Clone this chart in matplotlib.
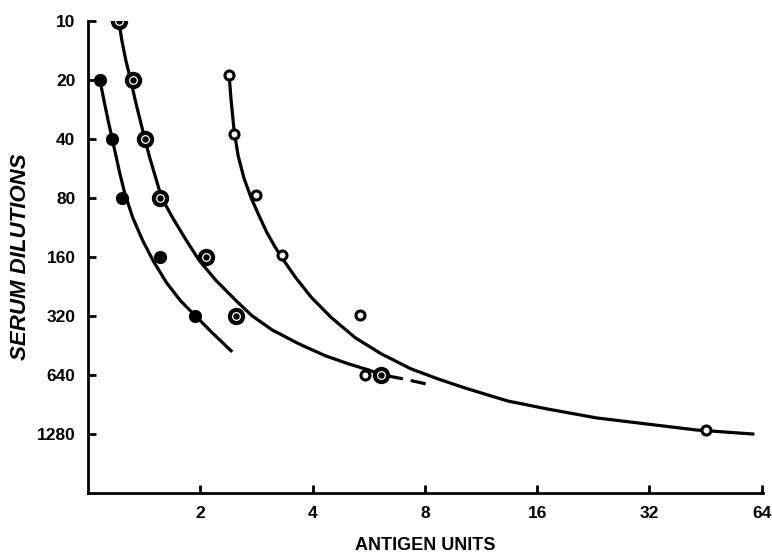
import numpy as np
import matplotlib
matplotlib.use('Agg')
import matplotlib.pyplot as plt

# ------------------------------------------------------------------
# DATA
# ------------------------------------------------------------------
yticks = [10, 20, 40, 80, 160, 320, 640, 1280]
xticks = [2, 4, 8, 16, 32, 64]

# filled dots
filled_x = [1.076, 1.158, 1.232, 1.555, 1.940]
filled_y = [20, 40, 80, 160, 320]

# double circles
double_x = [1.209, 1.318, 1.418, 1.555, 2.075, 2.494, 6.11]
double_y = [10, 20, 40, 80, 160, 320, 640]

# open circles
open_x = [2.39, 2.464, 2.82, 3.31, 5.37, 5.54, 45.4]
open_y = [18.9, 37.8, 77.6, 157, 315, 639, 1221]

# hand drawn curves (traced)
curve1_x = [1.0764, 1.1031, 1.1305, 1.1586, 1.1874, 1.2169, 1.2548, 1.3179, 1.4013,
            1.4991, 1.6235, 1.7691, 1.9397, 2.1528, 2.4188]
curve1_y = [20.03, 25.35, 31.71, 39.20, 48.45, 59.89, 75.80, 100.6, 131.8,
            168.8, 216.2, 267.2, 318.9, 389.6, 481.5]

curve2_x = [1.2094, 1.2319, 1.2625, 1.3018, 1.3423, 1.3842, 1.4185, 1.4628, 1.5176,
            1.5744, 1.6843, 1.8354, 1.9878, 2.2062, 2.4942, 2.7514, 3.1106, 3.6708,
            4.332, 4.988, 5.640, 6.145]
curve2_y = [10, 12.51, 15.83, 20.03, 25.96, 32.85, 39.66, 49.61, 62.78,
            79.45, 100.6, 131.8, 166.8, 211.2, 267.2, 318.9, 376.0, 443.4,
            510.8, 561.2, 602.3, 638.8]
curve2_dash_x = [6.145, 6.990, 8.049]
curve2_dash_y = [638.8, 669.6, 710.2]

curve3_x = [2.3894, 2.4188, 2.4638, 2.525, 2.6196, 2.7346, 2.8722, 3.0166, 3.1682,
            3.3074, 3.604, 3.9756, 4.494, 5.207, 6.108, 7.342, 8.664, 10.225,
            13.31, 17.01, 23.12, 31.42, 42.69, 60.56]
curve3_y = [18.89, 25.35, 36.09, 48.45, 63.53, 79.45, 98.22, 119.98, 141.5,
            161.1, 203.8, 258.0, 326.5, 413.2, 498.9, 595.3, 669.6, 744.4,
            867.6, 953.3, 1059.9, 1137.5, 1220.8, 1280]


def main():
    plt.rcParams['font.family'] = ['Liberation Sans', 'DejaVu Sans']

    fig = plt.figure(figsize=(7.72, 5.56), dpi=100)
    ax = fig.add_axes([88 / 772, 1 - 493 / 556, (763 - 88) / 772, (493 - 21) / 556])

    # curves
    ax.plot(curve1_x, curve1_y, color='black', lw=2.3, solid_joinstyle='round')
    ax.plot(curve2_x, curve2_y, color='black', lw=2.3, solid_joinstyle='round')
    ax.plot(curve2_dash_x, curve2_dash_y, color='black', lw=2.3, dashes=(6.6, 2.5, 4.8, 3))
    ax.plot(curve3_x, curve3_y, color='black', lw=2.3, solid_joinstyle='round')

    # points
    ax.plot(filled_x, filled_y, 'o', color='black', ms=8.5, zorder=5)
    ax.plot(double_x, double_y, 'o', color='black', ms=11.5, zorder=5)
    ax.plot(double_x, double_y, 'o', mfc='black', mec='white', mew=0.9, ms=5.5, zorder=6)
    ax.plot(open_x, open_y, 'o', mfc='white', mec='black', mew=2.2, ms=6.5, zorder=5)

    # axes
    ax.set_xscale('log', base=2)
    ax.set_yscale('log', base=2)
    ax.set_xlim(1, 64.5)
    ax.set_ylim(2560, 10)
    ax.set_xticks(xticks)
    ax.set_xticklabels([str(t) for t in xticks])
    ax.set_yticks(yticks)
    ax.set_yticklabels([str(t) for t in yticks])
    ax.minorticks_off()
    ax.tick_params(direction='in', length=6, width=2, labelsize=12.5, pad=9)
    for lab in ax.get_xticklabels() + ax.get_yticklabels():
        lab.set_fontweight('bold')

    for s in ['top', 'right']:
        ax.spines[s].set_visible(False)
    for s in ['left', 'bottom']:
        ax.spines[s].set_linewidth(2)

    ax.set_xlabel('ANTIGEN UNITS', fontsize=13, fontweight='bold')
    ax.xaxis.set_label_coords(0.5, -0.093)
    ax.set_ylabel('SERUM DILUTIONS', fontsize=16, fontweight='bold', style='italic')
    ax.yaxis.set_label_coords(-0.084, 0.5)

    plt.savefig('out.png', dpi=100)


if __name__ == "__main__":
    main()
